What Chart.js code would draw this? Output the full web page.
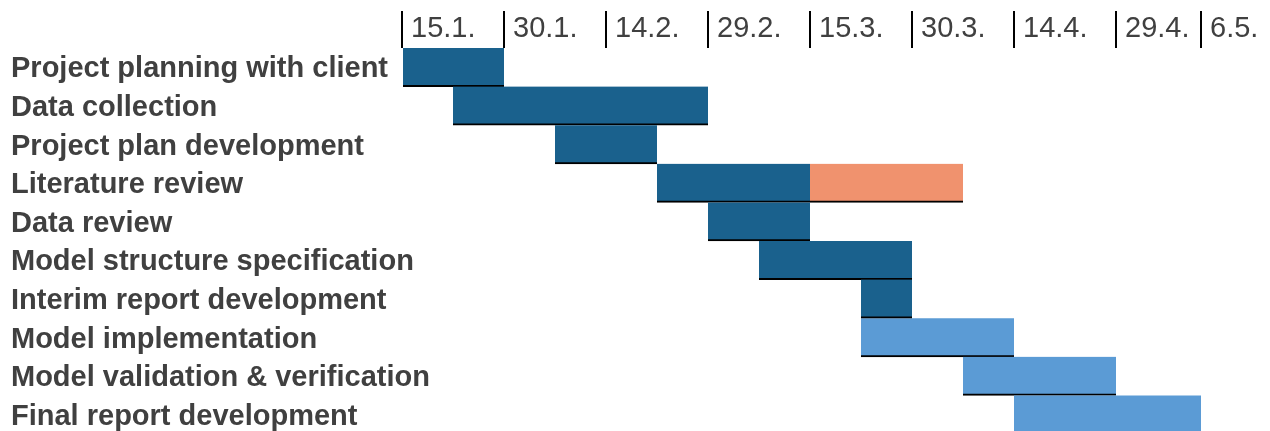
<!DOCTYPE html>
<html>
<head>
<meta charset="utf-8">
<script src="https://cdn.jsdelivr.net/npm/chart.js@4.4.1/dist/chart.umd.min.js"></script>
<style>
  html, body { margin: 0; padding: 0; background: #fff; overflow: hidden; }
  #wrap { position: relative; width: 1270px; height: 434px; }
</style>
</head>
<body>
<div id="wrap"><canvas id="gantt"></canvas></div>
<script>
// tasks, top to bottom
var tasks = ["Project planning with client", "Data collection", "Project plan development",
    "Literature review", "Data review", "Model structure specification",
    "Interim report development", "Model implementation",
    "Model validation & verification", "Final report development"];

// bars as [start, end] in days after 15.1.
var phase1 = [[0, 15], [7.5, 45], [22.5, 37.5], [37.5, 60], [45, 60], [52.5, 75], [67.5, 75], null, null, null];
var extension = [null, null, null, [60, 82.5], null, null, null, null, null, null];
var phase2 = [null, null, null, null, null, null, null, [67.5, 90], [82.5, 105], [90, 117.5]];

// date ticks on the top axis
var tickDays = [0, 15, 30, 45, 60, 75, 90, 105, 117.5];
var tickLabels = ["15.1.", "30.1.", "14.2.", "29.2.", "15.3.", "30.3.", "14.4.", "29.4.", "6.5."];

var fontFamily = "'Liberation Sans', Arial, sans-serif";

function barSet(data, color) {
    return {
        data: data,
        backgroundColor: color,
        borderColor: '#000000',
        borderWidth: {top: 0, right: 0, bottom: 2, left: 0},
        borderSkipped: false,
        grouped: false,
        barPercentage: 1,
        categoryPercentage: 1
    };
}

var ctx = document.getElementById('gantt').getContext('2d');
var chart = new Chart(ctx, {
    type: 'bar',
    data: {
        labels: tasks,
        datasets: [
            barSet(phase1, '#1a618d'),
            barSet(extension, '#f0926e'),
            barSet(phase2, '#5b9bd5')
        ]
    },
    options: {
        indexAxis: 'y',
        responsive: true,
        maintainAspectRatio: false,
        animation: false,
        layout: {padding: {left: 10, top: 11, right: 69, bottom: 0}},
        plugins: {legend: {display: false}, tooltip: {enabled: false}},
        scales: {
            x: {
                type: 'linear',
                position: 'top',
                min: 0,
                max: 117.5,
                afterBuildTicks: function (scale) {
                    scale.ticks = tickDays.map(function (d) { return {value: d}; });
                },
                afterFit: function (scale) { scale.height = 37; },
                grid: {drawOnChartArea: false, drawTicks: true, tickLength: 37, color: '#000000', lineWidth: 2},
                border: {display: false},
                ticks: {
                    autoSkip: false,
                    maxRotation: 0,
                    align: 'start',
                    labelOffset: 9,
                    padding: -35.5,
                    color: '#404040',
                    font: {family: fontFamily, size: 29},
                    callback: function (value, index) { return tickLabels[index]; }
                }
            },
            y: {
                grid: {display: false, drawTicks: false},
                border: {display: false},
                afterFit: function (scale) {
                    // fixed label column, bars start at x = 402
                    scale.width = 392;
                    scale.paddingTop = 0;
                    scale.paddingBottom = 0;
                },
                ticks: {
                    autoSkip: false,
                    mirror: true,
                    crossAlign: 'near',
                    padding: -391,
                    labelOffset: 2,
                    color: '#404040',
                    font: {family: fontFamily, size: 29, weight: 'bold'}
                }
            }
        }
    }
});
</script>
</body>
</html>
